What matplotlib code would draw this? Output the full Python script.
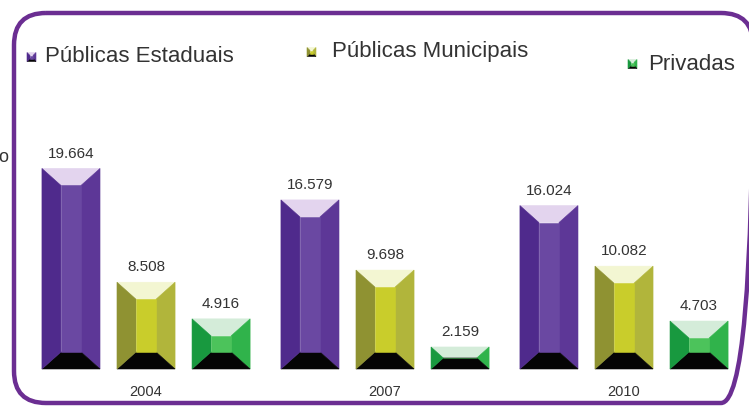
import matplotlib.pyplot as plt
from matplotlib.patches import Polygon, FancyBboxPatch

# Data
years = ['2004', '2007', '2010']
series_names = ['Públicas Estaduais', 'Públicas Municipais', 'Privadas']
estaduais = [19664, 16579, 16024]
municipais = [8508, 9698, 10082]
privadas = [4916, 2159, 4703]

# Bevel colours per series: (left, centre, right, top, bottom)
palettes = [
    ('#4f2a8c', '#6a48a2', '#5d3797', '#e3d4ee', '#050505'),
    ('#8f9232', '#c9cd2b', '#b1b53b', '#f3f6d2', '#050505'),
    ('#18993f', '#4cc35b', '#30b34b', '#d4ecd9', '#050505'),
]

plt.rcParams['font.family'] = ['Liberation Sans', 'DejaVu Sans']


def bevel_bar(ax, x0, x1, y0, y1, dx, dy, colors):
    """Draws a bevelled block between x0..x1 and y0 (base) .. y1 (top)."""
    left_c, centre_c, right_c, top_c, bottom_c = colors
    sign = 1 if y1 > y0 else -1
    h = abs(y1 - y0)
    if h < 2 * dy:
        dx = dx * (h / 2) / dy
        dy = h / 2
    ia, ib = x0 + dx, x1 - dx
    it, ibt = y1 - sign * dy, y0 + sign * dy
    pieces = [
        ([(x0, y1), (x1, y1), (ib, it), (ia, it)], top_c),
        ([(x1, y1), (x1, y0), (ib, ibt), (ib, it)], right_c),
        ([(x0, y0), (x1, y0), (ib, ibt), (ia, ibt)], bottom_c),
        ([(x0, y1), (x0, y0), (ia, ibt), (ia, it)], left_c),
        ([(ia, it), (ib, it), (ib, ibt), (ia, ibt)], centre_c),
    ]
    for pts, c in pieces:
        ax.add_patch(Polygon(pts, closed=True, facecolor=c, edgecolor=c, linewidth=0.4))


fig = plt.figure(figsize=(7.49, 4.07), dpi=100)

# Chart axes: group spacing = 1 unit, ~239 px; 10.2 px per 1000
ax = fig.add_axes([0, 0, 1, 1])
ax.set_xlim(-0.611, 2.523)
ax.set_ylim(-38 / 10.2 * 1000, (407 - 38) / 10.2 * 1000)
ax.axis('off')

offsets = [-0.314, 0.0, 0.314]
bar_w = 0.243
bevel_x = 19 / 239
bevel_y = 17 / 10.2 * 1000

for s, values in enumerate([estaduais, municipais, privadas]):
    for i, v in enumerate(values):
        xc = i + offsets[s]
        bevel_bar(ax, xc - bar_w / 2, xc + bar_w / 2, 0, v, bevel_x, bevel_y, palettes[s])
        label = f'{v:,}'.replace(',', '.')
        ax.text(xc, v + 1450, label, ha='center', va='center', fontsize=11, color='#333333')

for i, year in enumerate(years):
    ax.text(i, -2300, year, ha='center', va='center', fontsize=10.5, color='#333333')

# Decoration layer in pixel coordinates
deco = fig.add_axes([0, 0, 1, 1])
deco.set_xlim(0, 749)
deco.set_ylim(407, 0)
deco.axis('off')
deco.patch.set_alpha(0)

frame = FancyBboxPatch((14, 13), 739, 390, boxstyle='round,pad=0,rounding_size=32',
                       facecolor='none', edgecolor='#6b2e92', linewidth=3.2)
deco.add_patch(frame)

# Legend entries (placed at different heights as in the original)
legend_pos = [(27, 57, 45), (307, 52, 332), (628, 64, 648)]
for s, (mx, my, tx) in enumerate(legend_pos):
    bevel_bar(deco, mx, mx + 9, my + 4.5, my - 4.5, 3, 3, palettes[s])
    deco.text(tx, my, series_names[s], ha='left', va='center', fontsize=16, color='#333333')

deco.text(8, 157, 'o', ha='right', va='center', fontsize=13, color='#333333')

fig.savefig('out.png', dpi=100)
